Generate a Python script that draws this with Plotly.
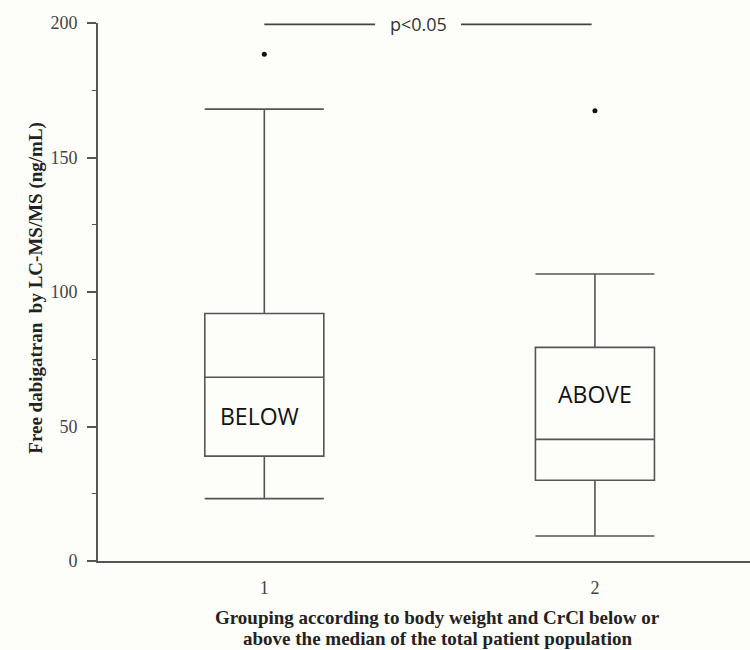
import plotly.graph_objects as go

# Group positions on the x axis and their summary statistics (ng/mL)
groups = [1, 2]
group_labels = ["BELOW", "ABOVE"]
lower_whisker = [23.2, 9.3]
q1 = [39.0, 30.0]
median = [68.3, 45.2]
q3 = [92.0, 79.4]
upper_whisker = [168.0, 106.7]
outliers = [188.4, 167.4]

# Significance bracket between the two groups
bracket_level = 199.5
bracket_text = "p<0.05"

y_ticks = [0, 50, 100, 150, 200]

x_title_lines = [
    "Grouping according to body weight and CrCl below or",
    "above the median of the total patient population",
]
y_title = "Free dabigatran&nbsp; by LC-MS/MS (ng/mL)"

line_col = "#555555"
bg = "#fdfdfa"
serif = "Liberation Serif, Times New Roman, serif"
sans = "Open Sans, Noto Sans, sans-serif"

fig = go.Figure()

for i, g in enumerate(groups):
    fig.add_trace(go.Box(
        x=[g],
        q1=[q1[i]], median=[median[i]], q3=[q3[i]],
        lowerfence=[lower_whisker[i]], upperfence=[upper_whisker[i]],
        boxpoints=False,
        width=0.36,
        whiskerwidth=1,
        fillcolor="rgba(0,0,0,0)",
        line=dict(color=line_col, width=1.6),
        showlegend=False,
        hoverinfo="skip",
    ))

# Outlying observations
fig.add_trace(go.Scatter(
    x=groups, y=outliers, mode="markers",
    marker=dict(color="#111111", size=5),
    showlegend=False, cliponaxis=False,
))

# Bracket line with a gap for the p-value label
left_end, right_end = groups[0], groups[1] - 0.01
mid = 1.465
gap = 0.13
for x0, x1 in [(left_end, mid - gap), (mid + gap, right_end)]:
    fig.add_shape(type="line", xref="x", yref="y",
                  x0=x0, x1=x1, y0=bracket_level, y1=bracket_level,
                  line=dict(color="#444444", width=1.6))
fig.add_annotation(x=mid, y=bracket_level, xref="x", yref="y",
                   text=bracket_text, showarrow=False,
                   font=dict(family=sans, size=18, color="#333333"))

# Group labels inside the boxes
label_pos = [(0.985, 54.0), (2.0, 62.0)]
for (lx, ly), txt in zip(label_pos, group_labels):
    fig.add_annotation(x=lx, y=ly, xref="x", yref="y", text=txt,
                       showarrow=False,
                       font=dict(family=sans, size=23, color="#111111"))

# X axis title, one annotation per line for tight line spacing
for line, shift in zip(x_title_lines, [-56, -77]):
    fig.add_annotation(
        xref="x", yref="paper", x=1.525, y=0, yanchor="middle", yshift=shift,
        text=f"<b>{line}</b>", showarrow=False,
        font=dict(family=serif, size=19, color="#222222"),
    )
fig.add_annotation(
    xref="paper", yref="paper", x=0, y=0.508, xshift=-75,
    text=f"<b>{y_title}</b>",
    textangle=-90, showarrow=False,
    font=dict(family=serif, size=19, color="#222222"),
)

fig.update_layout(
    width=750, height=650,
    margin=dict(l=98, r=0, t=23, b=89),
    paper_bgcolor=bg, plot_bgcolor=bg,
    xaxis=dict(
        range=[0.497, 2.469],
        tickvals=groups, ticktext=[str(g) for g in groups],
        showline=True, linecolor=line_col, linewidth=2,
        ticks="", showgrid=False, zeroline=False,
        ticklabelstandoff=9,
        tickfont=dict(family=serif, size=18, color="#444444"),
    ),
    yaxis=dict(
        range=[0, 200],
        tickvals=y_ticks,
        showline=True, linecolor=line_col, linewidth=2,
        ticks="outside", ticklen=9, tickwidth=1.5, tickcolor=line_col,
        minor=dict(dtick=25, ticks="outside", ticklen=4, tickwidth=1.2,
                   tickcolor=line_col, showgrid=False),
        showgrid=False, zeroline=False,
        ticklabelstandoff=6,
        tickfont=dict(family=serif, size=18, color="#444444"),
    ),
)

fig.write_html("out.html")
